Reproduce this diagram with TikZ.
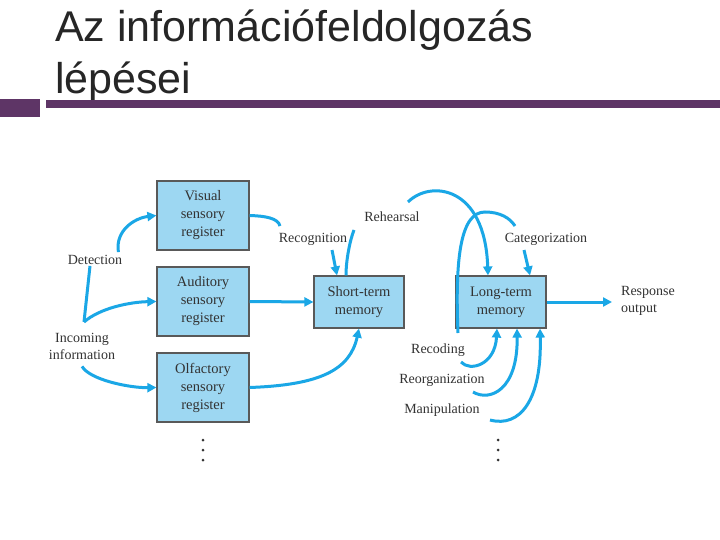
\documentclass[tikz,border=0pt]{standalone}
\usepackage{fontspec}
\setmainfont{Liberation Serif}
\newfontfamily\titlefont{Liberation Sans}
\usetikzlibrary{arrows.meta}
\definecolor{arr}{HTML}{1AA7E6}
\definecolor{boxf}{HTML}{9DD7F2}
\definecolor{bar}{HTML}{5E3566}
\begin{document}
\begin{tikzpicture}[x=1pt,y=-1pt,
  box/.style={draw=gray!70!black,fill=boxf,line width=1.2pt,minimum width=92pt,minimum height=69pt,align=center,font=\fontsize{14.5}{18}\selectfont,text=black!80},
  mem/.style={box,minimum height=52pt,minimum width=90pt},
  lbl/.style={font=\fontsize{14}{17}\selectfont,text=black!80,align=center,inner sep=1pt},
  dot/.style={circle,fill=black!80,inner sep=0pt,minimum size=3pt},
  con/.style={draw=arr,line width=3pt},
  ar/.style={con,-{Triangle[length=9pt,width=9pt]}}]
\useasboundingbox (0,0) rectangle (720,540);
\fill[white] (0,0) rectangle (720,540);
\node[anchor=north west,font=\titlefont\fontsize{43}{52}\selectfont,align=left,inner sep=0pt,text=black!85] (title) at (55,10) {Az információfeldolgozás\\lépései};
\fill[bar] (0,99) rectangle (40,117);
\fill[bar] (46,100) rectangle (720,108);
\node[box] (vis) at (203,215.5) {Visual\\sensory\\register};
\node[box] (aud) at (203,301.5) {Auditory\\sensory\\register};
\node[box] (olf) at (203,387.5) {Olfactory\\sensory\\register};
\node[mem] (stm) at (359,302) {Short-term\\memory};
\node[mem] (ltm) at (501,302) {Long-term\\memory};
\node[lbl] (det) at (95,260) {Detection};
\node[lbl] (inc) at (82,346) {Incoming\\information};
\node[lbl] (rec) at (313,239) {Recognition};
\node[lbl] (reh) at (392,217) {Rehearsal};
\node[lbl] (cat) at (546,239) {Categorization};
\node[lbl,align=left] (resp) at (648,301) {Response\\output};
\node[lbl] (rcd) at (438,350) {Recoding};
\node[lbl] (reo) at (442,380) {Reorganization};
\node[lbl] (man) at (442,410) {Manipulation};
\foreach \y [count=\i] in {440,450,460}{
  \node[dot] (da\i) at (203,\y) {};
  \node[dot] (db\i) at (498,\y) {};}
\coordinate (jn) at (84,322);
\draw[ar] (det.north east) ++(-5,-2) .. controls (115,230) and (135,218) .. (vis.west);
\draw[con] (det.south) ++(-5,0) -- (jn);
\draw[ar] (jn) .. controls (100,308) and (130,302) .. (aud.west);
\draw[ar] (inc.south) ++(0,6) .. controls (90,380) and (130,388) .. (olf.west);
\draw[con] (vis.east) .. controls (265,216) and (278,218) .. (280,226);
\draw[ar] (332,250) -- (stm.north -| 337,0);
\draw[ar] (aud.east) -- (stm.west);
\draw[ar] (olf.east) .. controls (320,385) and (350,370) .. (stm.south);
\draw[con] (stm.north -| 346,0) .. controls (346,260) and (350,240) .. (354,230);
\draw[ar] (408,202) .. controls (430,180) and (485,185) .. (ltm.north -| 488,0);
\draw[con] (458,333) .. controls (455,260) and (460,212) .. (485,212) .. controls (500,212) and (510,218) .. (515,226);
\draw[ar] (524,250) -- (ltm.north -| 530,0);
\draw[ar] (ltm.east) -- (612,302);
\draw[ar] (461,362) .. controls (470,372) and (495,365) .. (ltm.south -| 497,0);
\draw[ar] (473,392) .. controls (490,402) and (518,390) .. (ltm.south -| 517,0);
\draw[ar] (490,420) .. controls (520,428) and (542,400) .. (ltm.south -| 540,0);
\end{tikzpicture}
\end{document}
